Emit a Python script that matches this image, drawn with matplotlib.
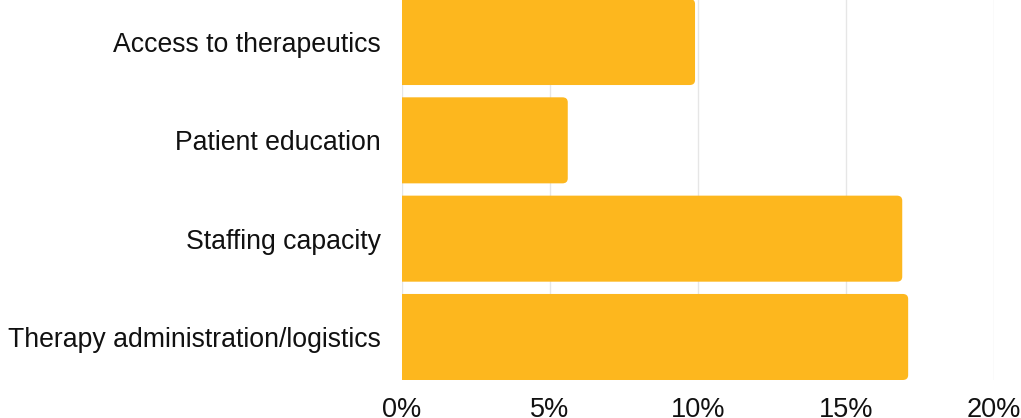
import matplotlib
matplotlib.use('Agg')
import matplotlib.pyplot as plt
from matplotlib.patches import FancyBboxPatch
from matplotlib.ticker import FuncFormatter

## data (bottom to top)
categories = ['Therapy administration/logistics', 'Staffing capacity',
              'Patient education', 'Access to therapeutics']
values = [17.1, 16.9, 5.6, 9.9]
x_ticks = [0, 5, 10, 15, 20]

bar_color = '#FDB71E'
bar_h = 0.875

plt.rcParams['font.family'] = ['Liberation Sans', 'DejaVu Sans']

fig = plt.figure(figsize=(10.21, 4.18), dpi=100)
ax = fig.add_axes([402 / 1021, 1 - 380 / 418, (994 - 402) / 1021, 380 / 418])

for i, v in enumerate(values):
    box = FancyBboxPatch((-1, i - bar_h / 2), v + 1, bar_h,
                         boxstyle='round,pad=0,rounding_size=0.18',
                         mutation_aspect=0.28,
                         facecolor=bar_color, edgecolor='none', zorder=2)
    ax.add_patch(box)

ax.set_xlim(0, 20)
ax.set_ylim(-bar_h / 2, 3 + 42 / 98.3)
ax.set_yticks(range(len(categories)))
ax.set_yticklabels(categories)
ax.set_xticks(x_ticks)
ax.xaxis.set_major_formatter(FuncFormatter(lambda x, p: f'{x:.0f}%'))

ax.grid(axis='x', color='#e6e6e6', linewidth=1, zorder=0)
ax.set_axisbelow(True)
for s in ax.spines.values():
    s.set_visible(False)
ax.tick_params(axis='y', length=0, pad=15, labelsize=19.2, colors='#111111')
ax.tick_params(axis='x', length=0, pad=12, labelsize=19.5, colors='#111111')

fig.savefig('out.png', dpi=100)
